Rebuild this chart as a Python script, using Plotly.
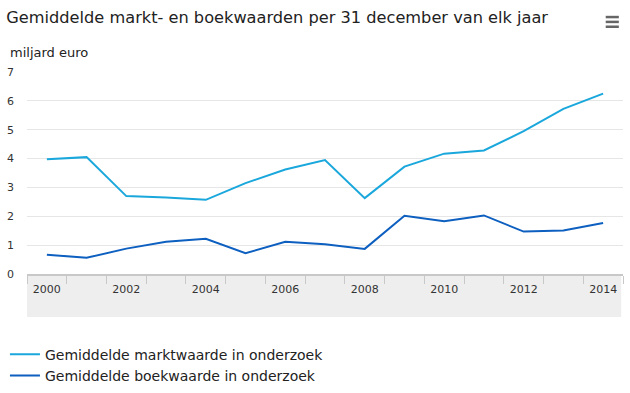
import plotly.graph_objects as go

years = list(range(2000, 2015))
marktwaarde = [3.98, 4.05, 2.70, 2.65, 2.57, 3.15, 3.62, 3.95, 2.63, 3.72, 4.17, 4.28, 4.95, 5.72, 6.25]
boekwaarde = [0.67, 0.56, 0.88, 1.12, 1.22, 0.72, 1.12, 1.03, 0.87, 2.02, 1.83, 2.03, 1.47, 1.51, 1.77]
tick_years = [2000, 2002, 2004, 2006, 2008, 2010, 2012, 2014]

FONT = "DejaVu Sans"

fig = go.Figure()
fig.add_trace(go.Scatter(x=years, y=marktwaarde, mode="lines",
                         name="Gemiddelde marktwaarde in onderzoek",
                         line=dict(color="#1aa7dc", width=2)))
fig.add_trace(go.Scatter(x=years, y=boekwaarde, mode="lines",
                         name="Gemiddelde boekwaarde in onderzoek",
                         line=dict(color="#0d5fc0", width=2)))

boundaries = [y - 0.5 for y in years] + [years[-1] + 0.5]

fig.update_layout(
    width=630, height=393,
    margin=dict(l=27, r=7, t=72, b=119, autoexpand=False),
    paper_bgcolor="white", plot_bgcolor="white",
    font=dict(family=FONT, color="#333333", size=11),
    title=dict(text="Gemiddelde markt- en boekwaarden per 31 december van elk jaar",
               x=0.01, xanchor="left", y=0.955, yanchor="middle",
               font=dict(size=16.2, color="#222222", family=FONT)),
    showlegend=True,
    legend=dict(orientation="v", x=-0.037, xanchor="left", y=-0.32, yanchor="top",
                font=dict(size=14, color="#222222", family=FONT),
                itemwidth=30, tracegroupgap=0, bgcolor="rgba(0,0,0,0)"),
    xaxis=dict(range=[1999.5, 2014.5], tickmode="array", tickvals=tick_years,
               ticktext=[str(t) for t in tick_years], showgrid=False,
               showline=True, linecolor="#c8c8c8", linewidth=2,
               ticks="", ticklabelstandoff=4, zeroline=False, automargin=False,
               tickfont=dict(size=11, color="#333333"),
               minor=dict(ticks="outside", tickmode="array", tickvals=boundaries,
                          ticklen=8, tickcolor="#c8c8c8", tickwidth=1, showgrid=False)),
    yaxis=dict(range=[0, 7], tickvals=list(range(0, 8)), showgrid=True,
               gridcolor="#e6e6e6", gridwidth=1, zeroline=False, showline=False,
               ticks="", ticklabelstandoff=12, automargin=False,
               tickfont=dict(size=11, color="#333333")),
    annotations=[dict(text="miljard euro", xref="paper", yref="paper",
                      x=-0.032, xanchor="left", y=1.095, yanchor="middle",
                      showarrow=False, font=dict(size=13, color="#222222", family=FONT))],
)

# grey band under the x axis
fig.add_shape(type="rect", xref="paper", yref="paper", x0=0, x1=0.997,
              y0=-0.213, y1=-0.005, fillcolor="#eeeeee", line=dict(width=0), layer="below")

# hamburger menu icon
for yy in [1.272, 1.248, 1.224]:
    fig.add_shape(type="line", xref="paper", yref="paper", x0=0.971, x1=0.993,
                  y0=yy, y1=yy, line=dict(color="#666666", width=2.5))

fig.write_html("out.html", config={"displayModeBar": False},
               post_script="document.body.style.margin='0';document.body.style.overflow='hidden';")
